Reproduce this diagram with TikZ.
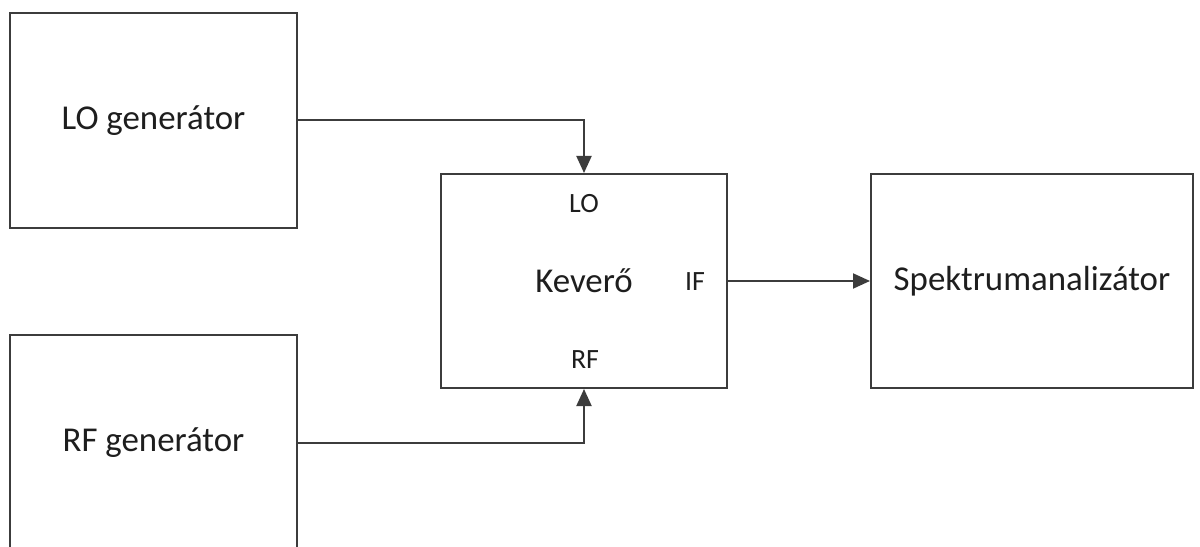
\documentclass[tikz,border=0pt]{standalone}
\usepackage{fontspec}
\setmainfont{Carlito}
\usetikzlibrary{arrows.meta}
\definecolor{edge}{HTML}{3C3C3C}
\definecolor{txt}{HTML}{1E1E1E}
\tikzset{
  blockbox/.style={draw=edge, line width=2bp, minimum width=#1, inner sep=0pt, text=txt, font=\fontsize{35}{40}\selectfont},
  portlabel/.style={text=txt, inner sep=0pt, font=\fontsize{28}{32}\selectfont},
  conn/.style={draw=edge, line width=2bp, -{Triangle[width=15bp,length=17bp]}}
}
\begin{document}
\begin{tikzpicture}[x=1bp,y=-1bp]
\useasboundingbox (0,0) rectangle (1200,547);
\clip (0,0) rectangle (1200,547);
\fill[white] (0,0) rectangle (1200,547);
\node[blockbox=287bp, minimum height=215bp] (logen) at (153.5,120.5) {LO generátor};
\node[blockbox=287bp, minimum height=216bp] (rfgen) at (153.5,443) {RF generátor};
\node[blockbox=286bp, minimum height=214bp] (mix) at (584,281) {Keverő};
\node[blockbox=322bp, minimum height=214bp] (spec) at (1032,281) {Spektrumanalizátor};
\node[portlabel] (lolab) at (584,204) {LO};
\node[portlabel] (rflab) at (585,360) {RF};
\node[portlabel] (iflab) at (695,282) {IF};
\draw[conn] (logen.east) -| (mix.north);
\draw[conn] (rfgen.east) -| (mix.south);
\draw[conn] (mix.east) -- (spec.west);
\end{tikzpicture}
\end{document}
